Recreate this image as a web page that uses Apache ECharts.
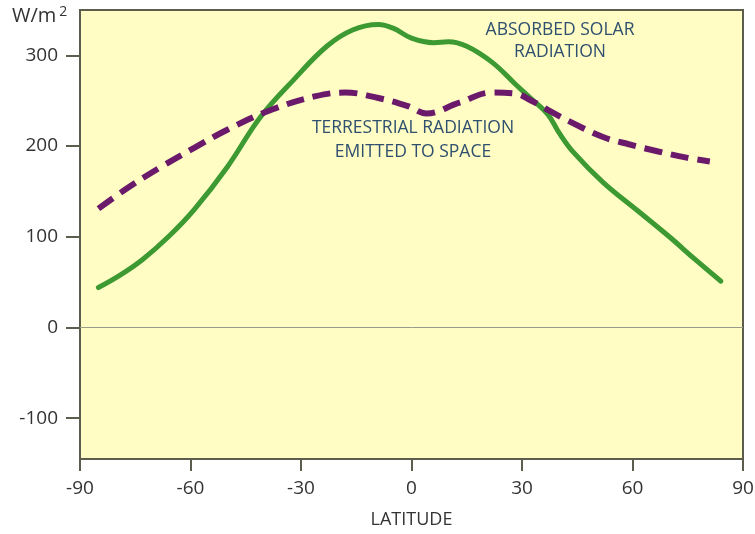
<!DOCTYPE html>
<html>
<head>
<meta charset="utf-8">
<script src="https://cdn.jsdelivr.net/npm/echarts@6/dist/echarts.min.js"></script>
<style>
html,body{margin:0;padding:0;background:#fff;}
#chart{width:755px;height:534px;}
</style>
</head>
<body>
<div id="chart"></div>
<script>
// Latitude (deg) and W/m2 values
const absorbedSolar = [
  [-85, 44], [-79, 58], [-73, 75], [-66, 100], [-59, 130], [-50, 177], [-41, 232],
  [-32, 273], [-23, 310], [-16, 328], [-9, 334], [-5, 330], [0, 319], [6, 314],
  [10, 315], [15, 310], [22, 292], [28, 269], [32, 254], [37, 235], [40, 215],
  [44, 193], [52, 160], [61, 130], [70, 100], [77, 75], [84, 51]
];
const terrestrialEmitted = [
  [-85, 131], [-77, 154], [-68, 177], [-59, 198], [-50, 218], [-38, 240], [-26, 255],
  [-18, 259], [-9, 253], [-1, 244], [4, 236], [13, 248], [22, 259], [28, 258],
  [33, 249], [37, 240], [43, 227], [52, 210], [59, 202], [67, 194], [75, 187], [81, 183]
];
const xTicks = [-90, -60, -30, 0, 30, 60, 90];
const yTicks = [-100, 0, 100, 200, 300];
const labelSolar = 'ABSORBED SOLAR\nRADIATION';
const labelTerrestrial = 'TERRESTRIAL RADIATION\nEMITTED TO SPACE';
const xName = 'LATITUDE';

const chart = echarts.init(document.getElementById('chart'), null, {renderer: 'canvas'});
const font = '"Open Sans", "DejaVu Sans", sans-serif';
const tickColor = '#333';
const axisColor = '#5d5d4e';

chart.setOption({
  animation: false,
  backgroundColor: '#ffffff',
  grid: {
    left: 80, right: 12, top: 10, bottom: 75,
    containLabel: false, outerBoundsMode: 'none',
    show: true, backgroundColor: '#fffdc4',
    borderColor: axisColor, borderWidth: 2
  },
  xAxis: {
    type: 'value', min: -90, max: 90, interval: 30,
    name: xName, nameLocation: 'middle', nameGap: 52,
    nameTextStyle: {fontFamily: font, fontSize: 18, color: tickColor},
    axisLine: {show: true, onZero: false, lineStyle: {color: axisColor, width: 2}},
    axisTick: {show: true, length: 12, lineStyle: {color: axisColor, width: 2}},
    axisLabel: {fontFamily: font, fontSize: 19, color: tickColor, margin: 20,
      customValues: xTicks},
    splitLine: {show: false}
  },
  yAxis: {
    type: 'value', min: -145, max: 350,
    axisLine: {show: true, onZero: false, lineStyle: {color: axisColor, width: 2}},
    axisTick: {show: true, length: 14, lineStyle: {color: axisColor, width: 2},
      customValues: yTicks},
    axisLabel: {fontFamily: font, fontSize: 19, color: tickColor, margin: 22,
      customValues: yTicks},
    splitLine: {show: false}
  },
  graphic: [
    {type: 'text', left: 12, top: 5, style: {
      text: '{a|W/m}{b|2}', fill: tickColor,
      rich: {
        a: {fontFamily: font, fontSize: 20, fill: tickColor},
        b: {fontFamily: font, fontSize: 14, fill: tickColor, verticalAlign: 'top', padding: [0, 0, 9, 3]}
      }
    }},
    {type: 'text', x: 560, y: 41, style: {
      text: labelSolar, fontFamily: font, fontSize: 17.5, fill: '#2f4f6f',
      align: 'center', verticalAlign: 'middle', lineHeight: 22
    }, z: 10},
    {type: 'text', x: 413, y: 140, style: {
      text: labelTerrestrial, fontFamily: font, fontSize: 17.5, fill: '#2f4f6f',
      align: 'center', verticalAlign: 'middle', lineHeight: 24
    }, z: 10}
  ],
  series: [
    {
      type: 'line', data: absorbedSolar, smooth: 0.4, showSymbol: false, symbol: 'none',
      lineStyle: {color: '#3d9932', width: 5, cap: 'round'},
      z: 3,
      markLine: {
        silent: true, symbol: 'none', label: {show: false},
        lineStyle: {color: '#9a9a8a', width: 1, type: 'solid'},
        data: [{yAxis: 0}]
      }
    },
    {
      type: 'line', data: terrestrialEmitted, smooth: 0.4, showSymbol: false, symbol: 'none',
      lineStyle: {color: '#6b1a6b', width: 6, type: [18, 9]},
      z: 4
    }
  ]
});
</script>
</body>
</html>
